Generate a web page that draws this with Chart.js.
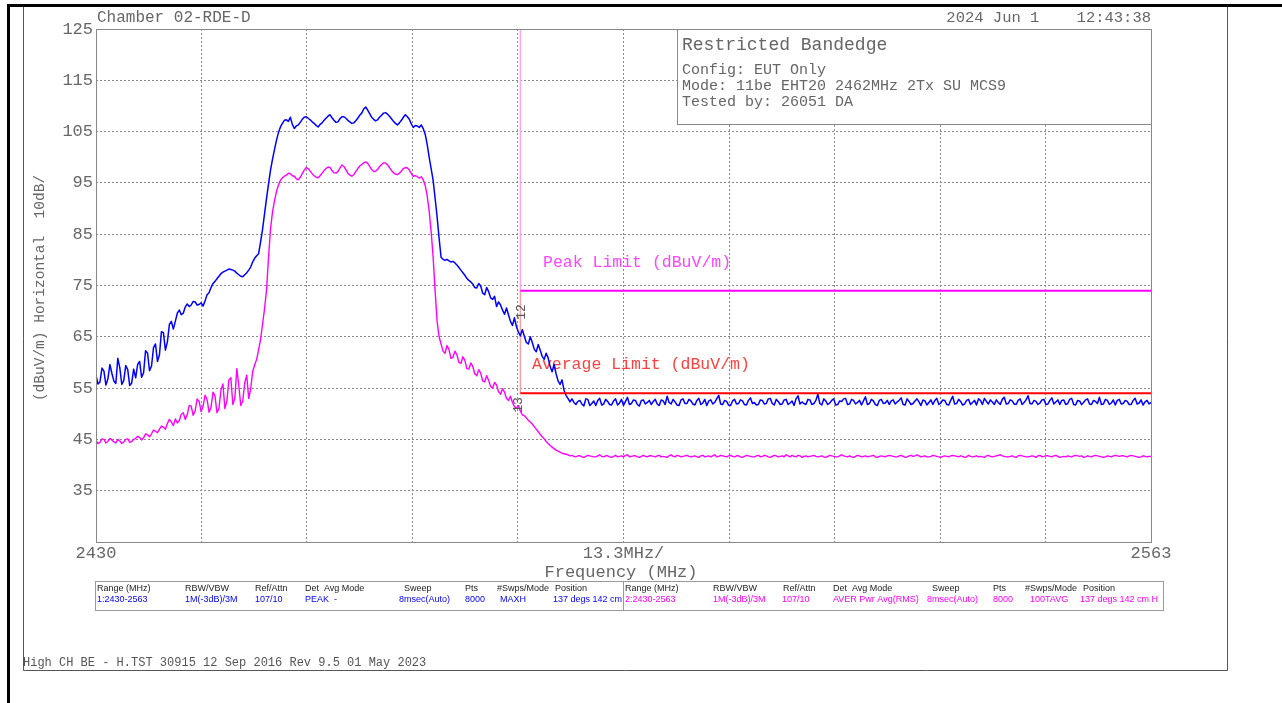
<!DOCTYPE html>
<html>
<head>
<meta charset="utf-8">
<script src="https://cdn.jsdelivr.net/npm/chart.js@4.4.1/dist/chart.umd.min.js"></script>
<style>
  html, body { margin: 0; padding: 0; background: #fff; overflow: hidden; }
</style>
</head>
<body>
<canvas id="plot" width="1282" height="703"></canvas>
<script>
// sweep grid (MHz)
const freqStart = 2430;
const freqStep = 0.5;

// trace 1: peak / max hold (dBuV/m), one value every 0.5 MHz from 2430
const peakTrace = [
  57.5, 56.2, 58.3, 56.8, 57.9, 55.9, 59.0, 56.5, 58.6, 56.0,
  57.0, 60.2, 58.0, 61.8, 59.3, 63.6, 61.5, 65.8, 64.0, 68.0,
  68.0, 70.2, 69.6, 71.4, 71.2, 71.8, 71.3, 71.0, 73.2, 74.6,
  75.8, 76.8, 77.6, 78.0, 78.1, 77.8, 77.1, 76.7, 77.5, 78.6,
  80.3, 81.2, 86.0, 92.0, 97.5, 101.5, 104.8, 106.6, 107.3, 107.8,
  105.6, 106.3, 107.4, 107.9, 107.3, 106.6, 105.9, 106.7, 107.6, 108.3,
  107.2, 106.9, 107.9, 107.6, 106.9, 106.7, 107.6, 108.6, 109.8, 108.5,
  107.4, 107.3, 108.2, 108.7, 108.0, 107.0, 106.3, 107.2, 108.3, 107.4,
  105.8, 106.1, 106.3, 104.5, 100.0, 95.5, 88.4, 80.5, 79.9, 79.8,
  79.7, 79.0, 78.0, 77.0, 76.0, 75.3, 74.5, 74.9, 73.2, 73.8,
  72.3, 70.9, 71.2, 69.4, 69.3, 67.2, 67.0, 65.2, 65.1, 63.6,
  63.9, 62.1, 62.4, 60.6, 60.9, 58.2, 57.8, 55.7, 54.6, 53.0,
  52.9, 51.8, 52.6, 51.5, 52.8, 52.0, 51.6, 53.0, 51.9, 52.4,
  51.7, 52.9, 52.1, 51.6, 53.2, 52.0, 52.6, 51.5, 52.7, 52.2,
  51.8, 52.8, 51.6, 52.5, 53.4, 51.9, 52.3, 51.6, 52.9, 52.0,
  52.5, 51.7, 53.0, 52.1, 51.6, 52.7, 52.2, 53.6, 51.8, 52.4,
  51.6, 52.8, 52.0, 52.5, 51.7, 53.1, 52.2, 51.8, 52.6, 52.0,
  53.0, 51.7, 52.4, 51.9, 52.8, 52.1, 51.6, 53.5, 52.3, 51.8,
  52.7, 52.0, 53.8, 51.7, 52.5, 52.1, 52.9, 51.8, 52.4, 53.0,
  51.9, 52.6, 52.2, 51.7, 53.3, 52.0, 52.5, 51.6, 52.8, 52.1,
  51.8, 52.7, 52.3, 53.1, 51.7, 52.4, 52.0, 52.9, 51.6, 52.5,
  52.2, 51.8, 53.0, 52.1, 52.6, 51.7, 53.4, 52.0, 52.4, 51.9,
  52.8, 52.2, 51.7, 52.6, 53.0, 51.9, 52.3, 52.7, 51.8, 53.2,
  52.0, 52.5, 51.8, 52.9, 52.2, 53.5, 51.9, 52.4, 52.1, 52.8,
  51.9, 53.1, 52.3, 51.8, 52.7, 52.0, 53.0, 51.7, 52.5, 52.2,
  52.9, 51.8, 52.4, 53.2, 51.9, 52.6, 52.1, 51.7, 52.8, 52.0,
  52.4, 51.8, 53.0, 52.1, 51.7, 52.6, 52.2
];
// trace 1 readings halfway between the grid points (2430.25, 2430.75, ...)
const peakTraceMid = [
  55.8, 58.9, 55.6, 59.6, 56.4, 60.8, 55.7, 59.4, 55.5, 58.7,
  59.6, 57.1, 62.3, 58.4, 62.9, 60.2, 66.0, 62.4, 67.4, 66.5,
  69.6, 69.3, 70.8, 70.9, 71.9, 71.2, 71.6, 72.0, 73.6, 75.4,
  76.3, 77.3, 77.8, 78.2, 78.0, 77.4, 76.8, 77.1, 78.0, 79.6,
  80.8, 83.5, 89.0, 94.8, 99.6, 103.3, 105.9, 107.2, 107.0, 106.4,
  106.1, 106.8, 107.8, 107.6, 106.9, 106.2, 106.4, 107.2, 108.0, 107.7,
  106.8, 107.5, 107.9, 107.2, 106.6, 107.1, 108.2, 109.4, 109.2, 107.8,
  107.1, 107.8, 108.6, 108.4, 107.5, 106.6, 106.7, 107.8, 107.9, 106.5,
  106.2, 105.8, 105.6, 102.5, 97.8, 92.0, 84.3, 80.1, 80.1, 79.6,
  79.4, 78.5, 77.5, 76.4, 75.7, 74.6, 75.4, 73.5, 74.6, 72.6,
  72.9, 71.8, 70.2, 70.6, 68.0, 68.7, 65.9, 66.4, 63.9, 65.0,
  62.6, 63.5, 61.2, 61.8, 59.2, 59.6, 56.4, 56.6, 53.6, 52.3,
  52.2, 52.4, 51.9, 52.9, 51.6, 52.5, 52.6, 51.7, 52.8, 51.8,
  52.5, 51.7, 52.8, 52.4, 51.8, 52.7, 51.8, 52.6, 51.9, 52.6,
  52.4, 51.9, 52.7, 51.8, 52.2, 52.8, 51.7, 52.7, 52.0, 52.8,
  51.9, 52.6, 51.8, 52.8, 52.5, 51.9, 52.9, 51.9, 52.6, 51.7,
  52.5, 51.9, 52.7, 51.8, 52.6, 52.0, 51.7, 52.7, 51.9, 52.9,
  52.0, 52.8, 51.8, 52.7, 51.8, 52.5, 52.9, 51.9, 52.0, 52.8,
  51.8, 52.6, 52.0, 52.9, 51.8, 52.6, 51.7, 52.5, 52.9, 51.8,
  52.8, 51.9, 52.6, 52.5, 51.8, 52.8, 51.8, 52.6, 52.0, 52.6,
  52.5, 51.9, 52.6, 51.8, 52.9, 51.8, 52.5, 52.3, 52.7, 51.7,
  52.7, 52.6, 51.8, 52.7, 51.8, 52.6, 51.9, 52.8, 51.7, 52.6,
  51.8, 52.6, 52.9, 51.8, 52.4, 52.7, 51.8, 52.2, 52.8, 51.9,
  52.7, 51.9, 52.6, 51.8, 52.7, 52.0, 52.6, 51.8, 52.7, 51.8,
  52.6, 51.9, 52.7, 52.6, 51.8, 52.8, 51.8, 52.6, 51.8, 52.7,
  51.9, 52.6, 52.0, 51.8, 52.8, 51.8, 52.7, 52.6, 51.9, 52.6,
  51.8, 52.6, 51.9, 52.7, 52.3, 51.9
];

// trace 2: average (dBuV/m), same grid
const avgTrace = [
  44.8, 44.4, 45.0, 44.6, 44.9, 44.3, 44.7, 44.5, 45.1, 44.6,
  45.2, 45.4, 45.3, 45.9, 46.1, 46.6, 47.0, 47.4, 48.1, 48.4,
  49.0, 48.7, 50.2, 49.8, 51.5, 50.6, 52.4, 51.5, 52.8, 51.2,
  53.5, 51.0, 55.8, 52.5, 57.0, 53.0, 55.5, 52.5, 57.5, 54.8,
  59.5, 62.5, 67.5, 74.2, 86.0, 91.5, 94.6, 96.0, 96.5, 96.8,
  96.3, 95.6, 96.8, 98.0, 97.3, 96.4, 96.0, 96.9, 97.8, 98.0,
  97.0, 97.2, 98.5, 97.6, 96.5, 96.6, 97.8, 98.6, 99.1, 98.2,
  97.2, 97.6, 98.6, 98.9, 98.0, 97.0, 96.6, 97.3, 98.0, 97.5,
  96.3, 96.2, 96.2, 94.5, 89.5, 80.5, 68.0, 63.6, 61.8, 62.5,
  61.0, 61.5, 59.8, 60.4, 58.7, 59.2, 57.4, 57.9, 56.2, 56.5,
  55.0, 55.6, 53.8, 54.2, 52.6, 52.2, 51.1, 50.5, 49.6, 48.7,
  48.0, 47.0, 46.0, 45.1, 44.2, 43.5, 42.9, 42.5, 42.2, 42.0,
  41.9, 41.6, 41.8, 41.5, 41.9, 41.7, 41.6, 42.0, 41.6, 41.8,
  41.5, 41.9, 41.7, 41.6, 42.0, 41.7, 41.8, 41.5, 41.9, 41.6,
  41.8, 41.6, 41.9, 41.7, 41.5, 42.0, 41.6, 41.8, 41.7, 41.9,
  41.6, 41.8, 41.5, 41.9, 41.7, 41.6, 42.0, 41.7, 41.8, 41.6,
  41.9, 41.6, 41.8, 41.5, 41.9, 41.7, 41.6, 41.9, 41.7, 41.8,
  41.5, 41.9, 41.6, 41.8, 42.0, 41.6, 41.7, 41.9, 41.5, 41.8,
  41.7, 41.9, 41.6, 41.8, 41.5, 41.9, 41.7, 41.6, 42.0, 41.7,
  41.8, 41.5, 41.9, 41.6, 41.8, 41.7, 41.9, 41.5, 41.8, 41.6,
  41.9, 41.7, 41.6, 41.9, 41.5, 41.8, 41.7, 42.0, 41.6, 41.8,
  41.6, 41.9, 41.7, 41.5, 41.8, 41.6, 41.9, 41.7, 41.8, 41.5,
  41.9, 41.6, 41.8, 41.7, 41.5, 41.9, 41.6, 41.8, 42.0, 41.7,
  41.6, 41.8, 41.5, 41.9, 41.7, 41.6, 41.8, 41.5, 41.9, 41.7,
  41.8, 41.6, 41.9, 41.5, 41.7, 41.8, 41.6, 41.9, 41.7, 41.5,
  41.8, 41.6, 41.9, 41.7, 41.5, 41.8, 41.6, 41.9, 41.7, 41.8,
  41.6, 41.9, 41.7, 41.5, 41.8, 41.6, 41.7
];
// trace 2 readings halfway between the grid points
const avgTraceMid = [
  44.2, 45.1, 44.3, 45.2, 44.5, 45.0, 44.2, 45.0, 44.4, 45.0,
  45.6, 44.9, 46.1, 45.5, 46.8, 46.3, 47.6, 47.0, 48.9, 47.7,
  48.2, 49.9, 48.9, 51.6, 49.7, 52.9, 50.4, 53.6, 50.3, 54.2,
  50.2, 54.6, 51.0, 56.6, 51.8, 58.8, 51.6, 56.0, 53.0, 58.2,
  60.6, 64.5, 70.5, 80.5, 89.3, 93.3, 95.5, 96.3, 96.9, 96.4,
  95.8, 96.1, 97.5, 97.8, 96.8, 96.1, 96.4, 97.4, 98.1, 97.4,
  96.9, 97.9, 98.2, 96.9, 96.3, 97.2, 98.3, 98.9, 98.8, 97.6,
  97.3, 98.2, 98.9, 98.5, 97.4, 96.7, 96.9, 97.8, 97.9, 96.8,
  96.4, 95.9, 95.6, 92.5, 85.5, 74.0, 65.0, 62.2, 63.3, 60.8,
  62.2, 60.0, 61.1, 58.8, 59.9, 57.8, 58.6, 56.4, 57.4, 55.3,
  56.1, 54.3, 54.9, 53.0, 53.4, 51.4, 51.6, 49.8, 49.2, 48.4,
  47.5, 46.5, 45.5, 44.6, 43.8, 43.2, 42.7, 42.3, 42.1, 41.8,
  41.7, 41.8, 41.6, 41.7, 41.8, 41.6, 41.8, 41.7, 41.8, 41.6,
  41.7, 41.6, 41.8, 41.9, 41.6, 41.8, 41.6, 41.7, 41.7, 41.8,
  41.7, 41.8, 41.6, 41.6, 41.8, 41.7, 41.9, 41.6, 41.8, 41.7,
  41.7, 41.6, 41.8, 41.6, 41.8, 41.8, 41.6, 41.9, 41.7, 41.8,
  41.7, 41.8, 41.6, 41.7, 41.8, 41.6, 41.8, 41.6, 41.9, 41.6,
  41.7, 41.8, 41.7, 41.6, 41.8, 41.9, 41.6, 41.8, 41.7, 41.6,
  41.8, 41.7, 41.7, 41.6, 41.7, 41.8, 41.6, 41.8, 41.8, 41.6,
  41.6, 41.7, 41.8, 41.7, 41.6, 41.8, 41.6, 41.7, 41.7, 41.8,
  41.8, 41.6, 41.8, 41.7, 41.6, 41.9, 41.8, 41.8, 41.7, 41.6,
  41.7, 41.8, 41.6, 41.7, 41.7, 41.8, 41.8, 41.6, 41.7, 41.6,
  41.7, 41.7, 41.6, 41.6, 41.8, 41.7, 41.7, 41.9, 41.8, 41.6,
  41.7, 41.6, 41.8, 41.8, 41.6, 41.7, 41.7, 41.8, 41.6, 41.8,
  41.7, 41.8, 41.7, 41.6, 41.6, 41.7, 41.8, 41.8, 41.8, 41.6,
  41.7, 41.8, 41.8, 41.6, 41.6, 41.7, 41.8, 41.8, 41.8, 41.7,
  41.8, 41.8, 41.6, 41.6, 41.7, 41.7
];

// restricted band limits
const limitFreqs = [2483.5, 2563];
const peakLimit = [74, 74];
const avgLimit = [54, 54];

// axes
const xTickValues = [2430, 2443.3, 2456.6, 2469.9, 2483.2, 2496.5, 2509.8, 2523.1, 2536.4, 2549.7, 2563];
const xTickLabels = ['2430', '', '', '', '', '13.3MHz/', '', '', '', '', '2563'];
const yTickValues = [25, 35, 45, 55, 65, 75, 85, 95, 105, 115, 125];
const yTickLabels = ['', '35', '45', '55', '65', '75', '85', '95', '105', '115', '125'];

const MONO = '"Liberation Mono", "DejaVu Sans Mono", monospace';
const SANS = '"Liberation Sans", Arial, sans-serif';
const GRAY = '#666';

// interleave grid readings and half-step readings into one trace
function interleave(onGrid, mid) {
  const out = [];
  onGrid.forEach((v, i) => {
    out.push({ x: freqStart + i * freqStep, y: v });
    if (i < mid.length) out.push({ x: freqStart + (i + 0.5) * freqStep, y: mid[i] });
  });
  return out;
}

function pts(xs, ys) {
  return xs.map((x, i) => ({ x: x, y: ys[i] }));
}

function put(ctx, s, x, y, size, color, align, family) {
  ctx.font = size + 'px ' + (family || MONO);
  ctx.fillStyle = color;
  ctx.textAlign = align || 'left';
  ctx.textBaseline = 'middle';
  ctx.fillText(s, x, y);
}

function seg(ctx, x1, y1, x2, y2) {
  ctx.beginPath();
  ctx.moveTo(x1, y1);
  ctx.lineTo(x2, y2);
  ctx.stroke();
}

// texts, frames and the settings table around the plot
const decorations = {
  id: 'decorations',
  beforeDatasetsDraw(chart) {
    const ctx = chart.ctx;
    ctx.save();
    put(ctx, 'Peak Limit (dBuV/m)', 543, 263, 16.5, '#ff44ff');
    put(ctx, 'Average Limit (dBuV/m)', 532, 365, 16.5, '#ff4040');
    ctx.restore();
  },
  afterDraw(chart) {
    const ctx = chart.ctx;
    const a = chart.chartArea;
    ctx.save();
    ctx.lineWidth = 1;

    // info box
    ctx.fillStyle = '#fff';
    ctx.fillRect(677, a.top, a.right - 677, 124 - a.top);
    ctx.strokeStyle = '#888';
    ctx.strokeRect(677.5, a.top + 0.5, a.right - 677, 124 - a.top);
    put(ctx, 'Restricted Bandedge', 682, 45, 18, GRAY);
    put(ctx, 'Config: EUT Only', 682, 70, 15, GRAY);
    put(ctx, 'Mode: 11be EHT20 2462MHz 2Tx SU MCS9', 682, 86, 15, GRAY);
    put(ctx, 'Tested by: 26051 DA', 682, 102, 15, GRAY);

    // plot frame
    ctx.strokeStyle = '#888';
    ctx.strokeRect(a.left + 0.5, a.top + 0.5, a.right - a.left, a.bottom - a.top);

    // headers and axis titles
    put(ctx, 'Chamber 02-RDE-D', 97, 18, 16, GRAY);
    put(ctx, '2024 Jun 1    12:43:38', 1151, 18, 15.5, GRAY, 'right');
    put(ctx, 'Frequency (MHz)', 621, 572, 17, GRAY, 'center');
    ctx.save();
    ctx.translate(40, 288);
    ctx.rotate(-Math.PI / 2);
    put(ctx, '(dBuV/m) Horizontal  10dB/', 0, 0, 14.5, GRAY, 'center');
    ctx.restore();

    // marker labels at the band edge
    ctx.save();
    ctx.translate(522, 312);
    ctx.rotate(-Math.PI / 2);
    put(ctx, '12', 0, 0, 13, '#555', 'center');
    ctx.restore();
    ctx.save();
    ctx.translate(519, 405);
    ctx.rotate(-Math.PI / 2);
    put(ctx, '13', 0, 0, 13, '#555', 'center');
    ctx.restore();

    // settings table
    ctx.strokeStyle = '#999';
    ctx.strokeRect(95.5, 581.5, 1068, 29);
    seg(ctx, 623.5, 581.5, 623.5, 610.5);
    const heads = ['Range (MHz)', 'RBW/VBW', 'Ref/Attn', 'Det  Avg Mode', 'Sweep', 'Pts', '#Swps/Mode', 'Position'];
    const headX = [97, 185, 255, 305, 404, 465, 497, 555];
    const vals1 = ['1:2430-2563', '1M(-3dB)/3M', '107/10', 'PEAK  -', '8msec(Auto)', '8000', 'MAXH', '137 degs 142 cm'];
    const vals2 = ['2:2430-2563', '1M(-3dB)/3M', '107/10', 'AVER Pwr Avg(RMS)', '8msec(Auto)', '8000', '100TAVG', '137 degs 142 cm H'];
    const valX1 = [97, 185, 255, 305, 399, 465, 500, 553];
    const valX2 = [625, 713, 782, 833, 927, 993, 1030, 1080];
    heads.forEach((h, i) => {
      put(ctx, h, headX[i], 589, 9, '#222', 'left', SANS);
      put(ctx, h, headX[i] + 528, 589, 9, '#222', 'left', SANS);
      put(ctx, vals1[i], valX1[i], 600, 9, '#0000ff', 'left', SANS);
      put(ctx, vals2[i], valX2[i], 600, 9, '#ff00ff', 'left', SANS);
    });

    // footer
    put(ctx, 'High CH BE - H.TST 30915 12 Sep 2016 Rev 9.5 01 May 2023', 23, 663, 12, '#555');

    // page frame
    ctx.fillStyle = '#000';
    ctx.fillRect(7, 4, 1275, 3);
    ctx.fillRect(7, 4, 3, 699);
    ctx.strokeStyle = '#555';
    seg(ctx, 23.5, 7, 23.5, 670.5);
    seg(ctx, 23.5, 670.5, 1227.5, 670.5);
    seg(ctx, 1227.5, 7, 1227.5, 670.5);
    ctx.restore();
  }
};

const ctx = document.getElementById('plot').getContext('2d');
new Chart(ctx, {
  type: 'line',
  data: {
    datasets: [
      {
        label: 'Peak Limit',
        data: pts(limitFreqs, peakLimit),
        borderColor: '#ff00ff',
        borderWidth: 2,
        order: 0
      },
      {
        label: 'Average Limit',
        data: pts(limitFreqs, avgLimit),
        borderColor: '#ff0000',
        borderWidth: 2,
        order: 0
      },
      {
        label: 'Peak edge',
        data: pts([limitFreqs[0], limitFreqs[0]], [125, peakLimit[0]]),
        borderColor: '#f5a6f5',
        borderWidth: 1.5,
        order: 3
      },
      {
        label: 'Average edge',
        data: pts([limitFreqs[0], limitFreqs[0]], [peakLimit[0], avgLimit[0]]),
        borderColor: '#f3a0a0',
        borderWidth: 1.5,
        order: 3
      },
      {
        label: 'Trace 1 MAXH',
        data: interleave(peakTrace, peakTraceMid),
        borderColor: '#0000ff',
        borderWidth: 1.5,
        order: 1
      },
      {
        label: 'Trace 2 AVG',
        data: interleave(avgTrace, avgTraceMid),
        borderColor: '#ff00ff',
        borderWidth: 1.4,
        order: 2
      }
    ]
  },
  options: {
    responsive: false,
    animation: false,
    events: [],
    layout: {
      padding: { left: 0, top: 29, right: 131, bottom: 131 }
    },
    elements: {
      point: { radius: 0 },
      line: { tension: 0, borderJoinStyle: 'round', fill: false }
    },
    scales: {
      x: {
        type: 'linear',
        min: 2430,
        max: 2563,
        afterBuildTicks: (s) => { s.ticks = xTickValues.map((v) => ({ value: v })); },
        afterFit: (s) => { s.height = 30; },
        grid: { color: '#8a8a8a', lineWidth: 1, drawTicks: false },
        border: { display: false, dash: [2, 2] },
        ticks: {
          color: GRAY,
          font: { family: MONO, size: 17 },
          padding: 1,
          maxRotation: 0,
          autoSkip: false,
          callback: (v, i) => xTickLabels[i]
        }
      },
      y: {
        type: 'linear',
        min: 25,
        max: 125,
        afterBuildTicks: (s) => { s.ticks = yTickValues.map((v) => ({ value: v })); },
        afterFit: (s) => { s.width = 96; },
        grid: { color: '#8a8a8a', lineWidth: 1, drawTicks: false },
        border: { display: false, dash: [2, 2] },
        ticks: {
          color: GRAY,
          font: { family: MONO, size: 17 },
          padding: 3,
          autoSkip: false,
          callback: (v, i) => yTickLabels[i]
        }
      }
    },
    plugins: {
      legend: { display: false },
      tooltip: { enabled: false }
    }
  },
  plugins: [decorations]
});
</script>
</body>
</html>
